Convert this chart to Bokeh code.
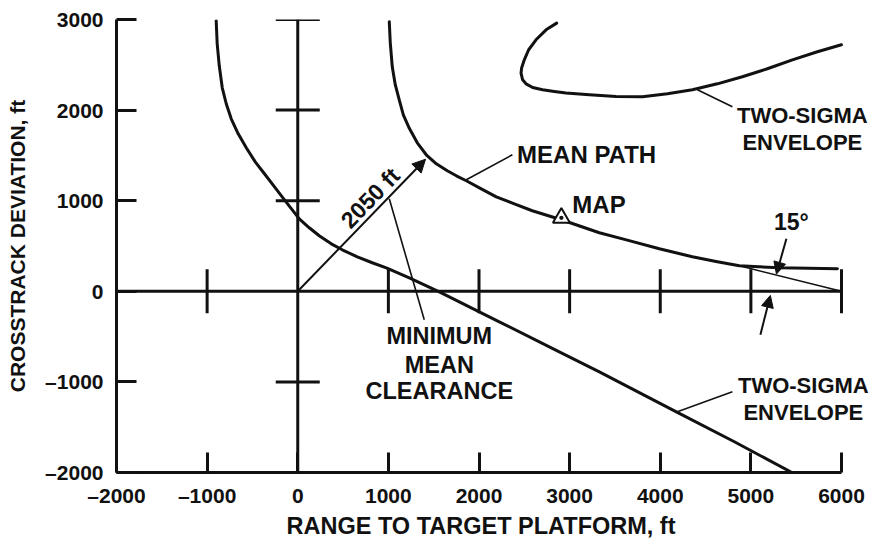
import math
from bokeh.plotting import figure
from bokeh.models import Span, Label, Arrow, NormalHead, FixedTicker, Range1d, Title
from bokeh.embed import file_html
from bokeh.resources import INLINE

# ---------------- data (ft) ----------------
x_ticks = [-2000, -1000, 0, 1000, 2000, 3000, 4000, 5000, 6000]
y_ticks = [-2000, -1000, 0, 1000, 2000, 3000]
x_tick_labels = ["–2000", "–1000", "0", "1000", "2000", "3000", "4000", "5000", "6000"]
y_tick_labels = ["–2000", "–1000", "0", "1000", "2000", "3000"]

mean_path_x = [1010, 1021, 1043, 1076, 1120, 1165, 1231, 1319, 1418, 1529, 1650, 1750, 1860,
               2025, 2191, 2390, 2588, 2909, 3328, 3626, 3990, 4354, 4630, 4873, 5315, 5955]
mean_path_y = [2975, 2743, 2478, 2280, 2114, 1948, 1799, 1639, 1507, 1407, 1330, 1275, 1220,
               1131, 1043, 966, 889, 790, 646, 568, 469, 381, 326, 281, 259, 248]

lower_env_x = [-900, -889, -866, -833, -789, -734, -657, -568, -469, -359, -248, -138, 17, 127,
               237, 370, 491, 657, 822, 977, 1231, 1562, 2224, 2886, 3328, 4178, 4818, 5458]
lower_env_y = [2986, 2732, 2489, 2246, 2070, 1904, 1738, 1584, 1429, 1286, 1142, 999, 800, 701,
               613, 524, 458, 381, 315, 259, 149, -6, -337, -668, -889, -1330, -1661, -2003]

upper_env_x = [2857, 2740, 2629, 2548, 2500, 2470, 2464, 2481, 2519, 2592, 2702, 2831, 2960,
               3218, 3512, 3803, 4079, 4355, 4630, 4906, 5182, 5458, 5734, 5999]
upper_env_y = [2960, 2886, 2776, 2666, 2555, 2464, 2408, 2335, 2290, 2250, 2224, 2205, 2188,
               2169, 2150, 2147, 2180, 2224, 2290, 2368, 2456, 2555, 2644, 2721]

angle_line_x = [4873, 6000]
angle_line_y = [281, 0]

map_x = [2909]
map_y = [811]

clearance_start = (0, 0)
clearance_end = (1410, 1458)

x_title = "RANGE TO TARGET PLATFORM, ft"
y_title = "CROSSTRACK DEVIATION, ft"

FONT = "Liberation Sans"
INK = "#111111"

FRAME_W = 755
PX_PER_FT = 725 / 8000.0
x_end = x_ticks[0] + FRAME_W / PX_PER_FT   # room at right for the labels

p = figure(frame_width=FRAME_W, frame_height=453,
           x_range=Range1d(x_ticks[0], x_end), y_range=Range1d(y_ticks[0], y_ticks[-1]),
           output_backend="svg", toolbar_location=None,
           min_border_left=116, min_border_top=19, min_border_right=2, min_border_bottom=20,
           background_fill_color="white", border_fill_color="white")
p.outline_line_color = None
p.grid.visible = False

for ax, ticks, labels in ((p.xaxis, x_ticks, x_tick_labels), (p.yaxis, y_ticks, y_tick_labels)):
    ax.ticker = FixedTicker(ticks=ticks)
    ax.major_label_overrides = {t: l for t, l in zip(ticks, labels)}
    ax.bounds = (ticks[0], ticks[-1])
    ax.major_tick_in = 20
    ax.major_tick_out = 0
    ax.minor_tick_line_color = None
    ax.major_tick_line_width = 3
    ax.major_tick_line_color = INK
    ax.axis_line_width = 3
    ax.axis_line_color = INK
    ax.major_label_text_font = FONT
    ax.major_label_text_font_style = "bold"
    ax.major_label_text_font_size = "21px"
    ax.major_label_text_color = INK
    ax.axis_label_text_font = FONT
    ax.axis_label_text_font_style = "bold"
    ax.axis_label_text_color = INK

p.yaxis.axis_label = y_title
p.yaxis.axis_label_text_font_size = "21px"
p.xaxis.major_label_standoff = 11
p.yaxis.major_label_standoff = 13
p.yaxis.axis_label_standoff = 13

# x-axis title, centred on the -2000..6000 span rather than on the widened frame
p.add_layout(Title(text=x_title, align="left", offset=170, standoff=2,
                   text_font=FONT, text_font_style="bold", text_font_size="23.5px",
                   text_color=INK), "below")

# inner cross axes
p.add_layout(Span(location=0, dimension="height", line_width=3, line_color=INK))
p.line([x_ticks[0], x_ticks[-1]], [0, 0], line_width=3, line_color=INK)
ytk = [t for t in y_ticks if t not in (0, y_ticks[0])]
xtk = [t for t in x_ticks if t not in (0, x_ticks[0])]
p.scatter([0] * len(ytk), ytk, marker="dash", size=44, line_width=3, line_color=INK)
p.scatter(xtk, [0] * len(xtk), marker="dash", size=44, angle=math.pi / 2, line_width=3, line_color=INK)

# curves
for xs, ys in ((mean_path_x, mean_path_y), (lower_env_x, lower_env_y), (upper_env_x, upper_env_y)):
    p.line(xs, ys, line_width=3, line_color=INK, line_join="round", line_cap="round")
p.line(angle_line_x, angle_line_y, line_width=1.6, line_color=INK)

p.scatter(map_x, map_y, marker="triangle_dot", size=17, line_width=2, line_color=INK, fill_color="white")

# leader lines
leaders = [((1860, 1231), (2368, 1507)),
           ((4410, 2224), (4796, 2036)),
           ((1010, 1021), (1396, -315)),
           ((4189, -1330), (4796, -1109))]
for (x0, y0), (x1, y1) in leaders:
    p.line([x0, x1], [y0, y1], line_width=1.6, line_color=INK)

# arrows
p.add_layout(Arrow(x_start=clearance_start[0], y_start=clearance_start[1],
                   x_end=clearance_end[0], y_end=clearance_end[1], line_width=2, line_color=INK,
                   end=NormalHead(size=13, fill_color=INK, line_color=INK, line_width=1)))
p.add_layout(Arrow(x_start=5392, y_start=580, x_end=5282, y_end=190, line_width=2, line_color=INK,
                   end=NormalHead(size=12, fill_color=INK, line_color=INK, line_width=1)))
p.add_layout(Arrow(x_start=5105, y_start=-480, x_end=5215, y_end=-45, line_width=2, line_color=INK,
                   end=NormalHead(size=12, fill_color=INK, line_color=INK, line_width=1)))

def lab(x, y, text, align="center", angle=0.0, size="23px"):
    p.add_layout(Label(x=x, y=y, text=text, text_font=FONT, text_font_style="bold",
                       text_font_size=size, text_color=INK, text_align=align,
                       text_baseline="middle", angle=angle))

lab(800, 1030, "2050 ft", angle=math.radians(46))
lab(2420, 1507, "MEAN PATH", align="left", size="24px")
lab(3030, 960, "MAP", align="left", size="24px")
lab(5568, 1937, "TWO-SIGMA", size="22px")
lab(5568, 1645, "ENVELOPE", size="22px")
lab(5447, 767, "15°", size="23px")
lab(1562, -497, "MINIMUM", size="23.5px")
lab(1562, -811, "MEAN", size="23.5px")
lab(1562, -1104, "CLEARANCE", size="23.5px")
lab(5579, -1043, "TWO-SIGMA", size="22px")
lab(5579, -1336, "ENVELOPE", size="22px")

open("out.html", "w").write(file_html(p, INLINE))
